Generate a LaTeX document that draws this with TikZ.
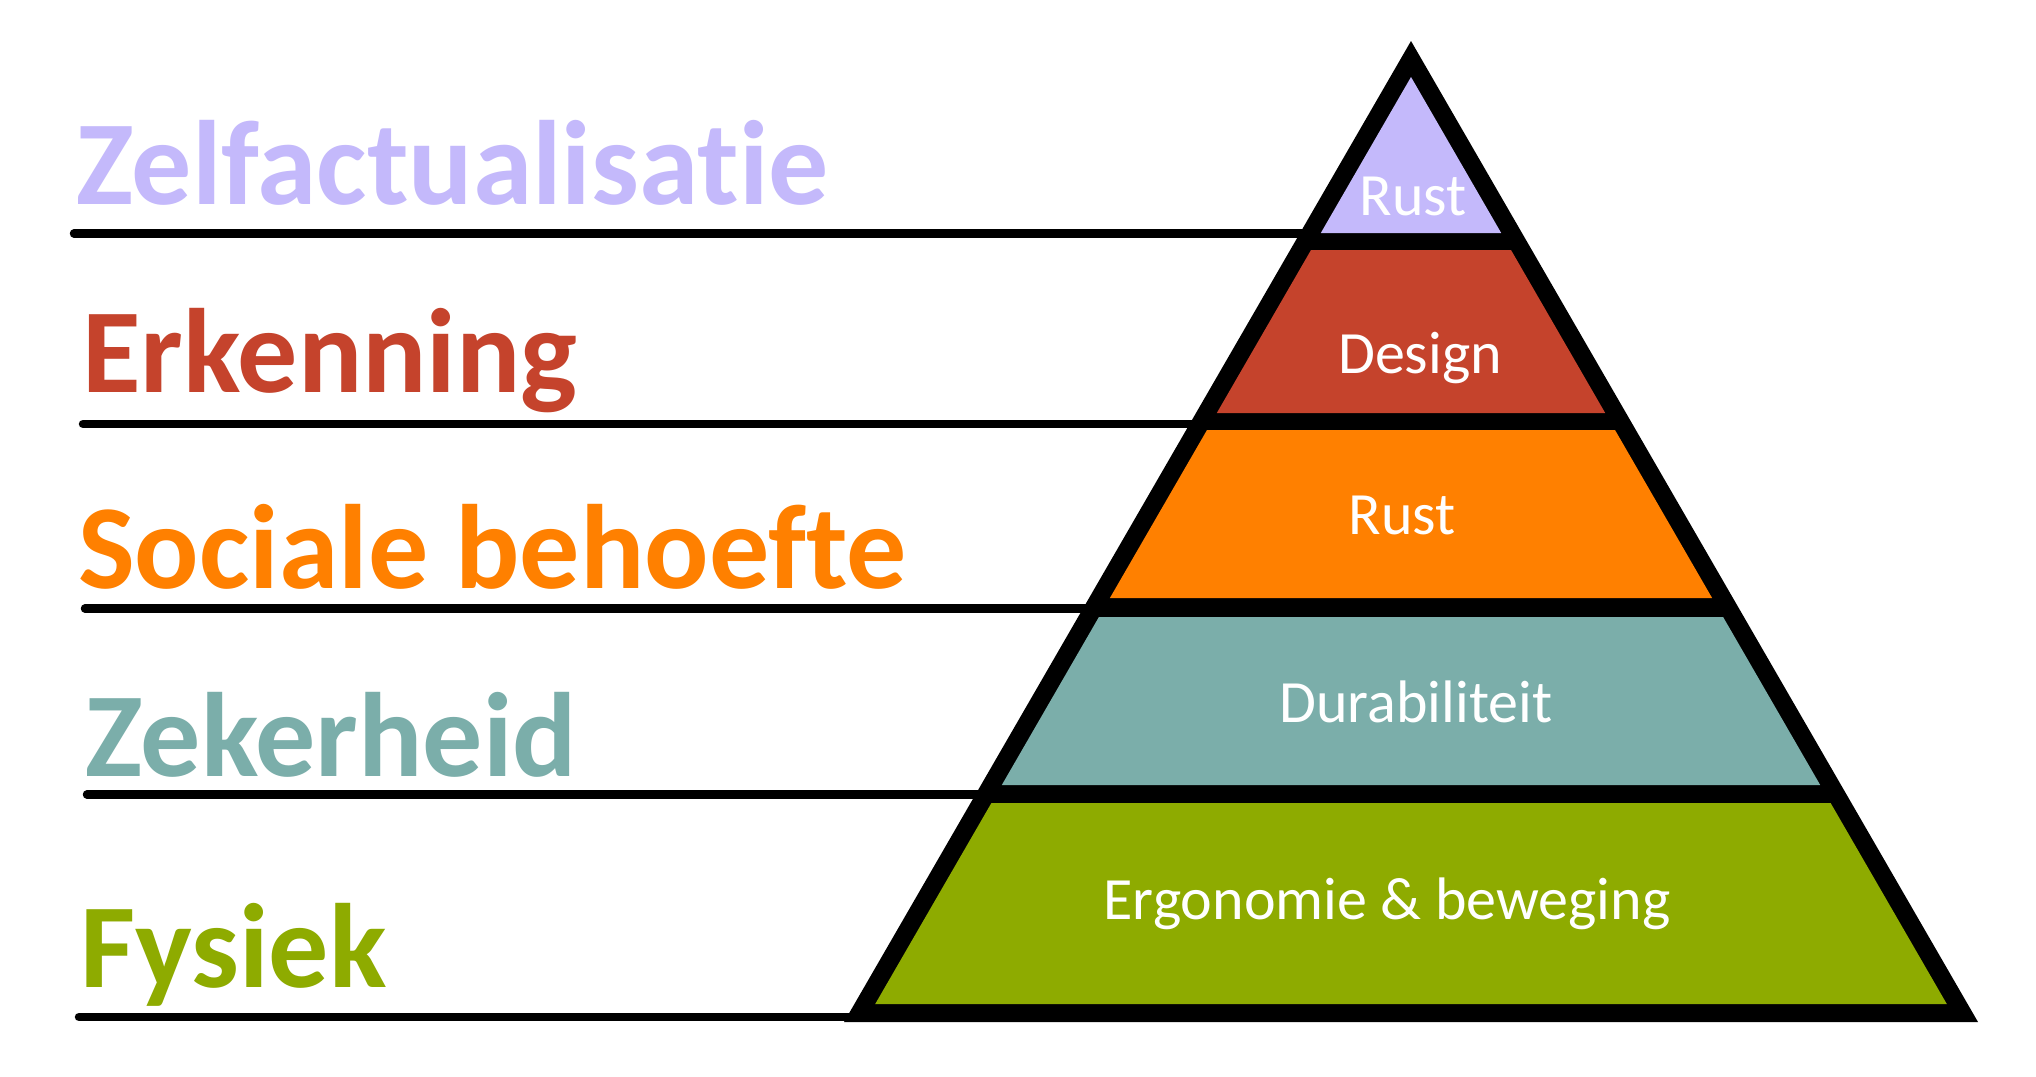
\documentclass[tikz,border=0pt]{standalone}
\usepackage{fontspec}
\setmainfont[Ligatures=NoCommon]{Carlito}
\definecolor{cLav}{HTML}{C4B9FB}
\definecolor{cRed}{HTML}{C5432C}
\definecolor{cOra}{HTML}{FF8000}
\definecolor{cTeal}{HTML}{7BAEAA}
\definecolor{cGreen}{HTML}{8EAB00}
\tikzset{
  level/.style={font=\fontsize{120}{120}\selectfont\bfseries, anchor=base west, inner sep=0pt},
  inlabel/.style={font=\fontsize{60}{60}\selectfont, text=white, anchor=base, inner sep=0pt},
  rule/.style={line width=8.5pt, line cap=round},
}
\begin{document}
\begin{tikzpicture}[x=1pt,y=-1pt]
\useasboundingbox[fill=white] (0,0) rectangle (2036,1076);
% left rules
\coordinate (r1a) at (74,233.5);  \coordinate (r1b) at (1310,233.5);
\coordinate (r2a) at (83,424);    \coordinate (r2b) at (1200,424);
\coordinate (r3a) at (85,608.5);  \coordinate (r3b) at (1100,608.5);
\coordinate (r4a) at (87,794.5);  \coordinate (r4b) at (1005,794.5);
\coordinate (r5a) at (79,1017);   \coordinate (r5b) at (870,1017);
\draw[rule] (r1a) -- (r1b);
\draw[rule] (r2a) -- (r2b);
\draw[rule] (r3a) -- (r3b);
\draw[rule] (r4a) -- (r4b);
\draw[rule] (r5a) -- (r5b);
% outer black triangle
\fill[black] (1411,41) -- (1978,1022) -- (844,1022) -- cycle;
% layers
\fill[cLav]   (1411,77) -- (1501.2,233) -- (1320.8,233) -- cycle;
\fill[cRed]   (1311,250) -- (1511,250) -- (1605.2,413) -- (1216.8,413) -- cycle;
\fill[cOra]   (1207,430) -- (1615,430) -- (1712.1,598) -- (1109.9,598) -- cycle;
\fill[cTeal]  (1098.9,617) -- (1723.1,617) -- (1820.2,785) -- (1001.8,785) -- cycle;
\fill[cGreen] (991.4,803) -- (1830.6,803) -- (1946.8,1004) -- (875.2,1004) -- cycle;
% inner labels
\node[inlabel] (t1) at (1413,215) {Rust};
\node[inlabel] (t2) at (1420,373) {Design};
\node[inlabel] (t3) at (1402,534) {Rust};
\node[inlabel] (t4) at (1416,722) {Durabiliteit};
\node[inlabel] (t5) at (1387,919) {Ergonomie \& beweging};
% level labels
\node[level, text=cLav]   (l1) at (76,204) {Zelfactualisatie};
\node[level, text=cRed]   (l2) at (82,392) {Erkenning};
\node[level, text=cOra]   (l3) at (78,588) {Sociale behoefte};
\node[level, text=cTeal]  (l4) at (85,776) {Zekerheid};
\node[level, text=cGreen] (l5) at (80,987) {Fysiek};
\end{tikzpicture}
\end{document}
